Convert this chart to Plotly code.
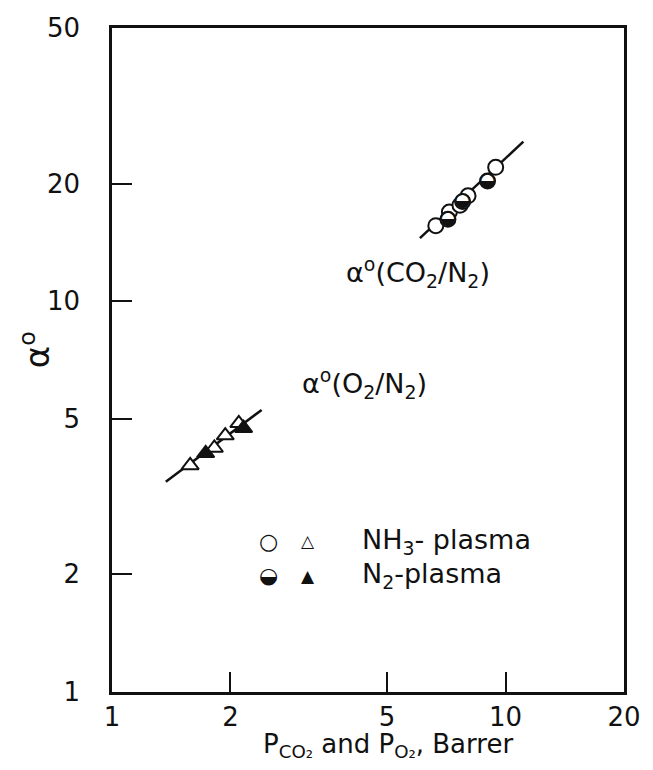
import plotly.graph_objects as go

# ---- data ----
co2_nh3_x = [6.65, 7.20, 7.66, 8.03, 9.44]
co2_nh3_y = [15.6, 16.9, 17.6, 18.6, 22.0]
co2_n2_x = [7.14, 7.78, 9.00]
co2_n2_y = [16.2, 18.0, 20.3]

o2_nh3_x = [1.58, 1.82, 1.94, 2.10]
o2_nh3_y = [3.80, 4.21, 4.53, 4.87]
o2_n2_x = [1.73, 2.16]
o2_n2_y = [4.08, 4.73]

co2_line_x = [6.06, 11.1]
co2_line_y = [14.5, 25.6]
o2_line_x = [1.37, 2.40]
o2_line_y = [3.45, 5.27]

x_ticks = [1, 2, 5, 10, 20]
y_ticks = [1, 2, 5, 10, 20, 50]

FONT = "DejaVu Sans"
BLACK = "#111111"

fig = go.Figure()

# fitted lines
for lx, ly in [(co2_line_x, co2_line_y), (o2_line_x, o2_line_y)]:
    fig.add_trace(go.Scatter(x=lx, y=ly, mode="lines",
                             line=dict(color=BLACK, width=2.5),
                             showlegend=False, hoverinfo="skip"))

# NH3 plasma: open symbols
fig.add_trace(go.Scatter(x=co2_nh3_x, y=co2_nh3_y, mode="markers",
                         marker=dict(symbol="circle", size=15, color="white",
                                     line=dict(color=BLACK, width=2)),
                         showlegend=False))
fig.add_trace(go.Scatter(x=o2_nh3_x, y=o2_nh3_y, mode="markers",
                         marker=dict(symbol="triangle-up", size=15, color="white",
                                     line=dict(color=BLACK, width=2)),
                         showlegend=False))

# N2 plasma: half-filled circles, filled triangles
fig.add_trace(go.Scatter(x=co2_n2_x, y=co2_n2_y, mode="markers",
                         marker=dict(symbol="circle", size=15, color="white",
                                     line=dict(color=BLACK, width=2)),
                         showlegend=False))
fig.add_trace(go.Scatter(x=co2_n2_x, y=co2_n2_y, mode="text",
                         text=["◒"] * len(co2_n2_x),
                         textposition="middle center",
                         textfont=dict(family=FONT, size=19, color=BLACK),
                         showlegend=False))
fig.add_trace(go.Scatter(x=o2_n2_x, y=o2_n2_y, mode="markers",
                         marker=dict(symbol="triangle-up", size=15, color=BLACK,
                                     line=dict(color=BLACK, width=2)),
                         showlegend=False))

axis_common = dict(type="log", showgrid=False, zeroline=False,
                   showline=True, linecolor=BLACK, linewidth=2.5, mirror=True,
                   ticks="inside", ticklen=20, tickwidth=1.5, tickcolor=BLACK,
                   tickmode="array",
                   tickfont=dict(family=FONT, size=26, color=BLACK))

fig.update_xaxes(**axis_common, range=[0, 1.30103], tickvals=x_ticks,
                 ticktext=[str(v) for v in x_ticks], ticklabelstandoff=0)
fig.update_yaxes(**axis_common, range=[0, 1.69897], tickvals=y_ticks,
                 ticktext=[str(v) for v in y_ticks], ticklabelstandoff=24)


def note(text, x, y, size, xanchor="center", angle=0):
    return dict(text=text, x=x, y=y, xref="paper", yref="paper",
                xanchor=xanchor, yanchor="middle", textangle=angle,
                showarrow=False, font=dict(family=FONT, size=size, color=BLACK))


ann = [
    note("α<sup>o</sup>(CO<sub>2</sub>/N<sub>2</sub>)", 0.598, 0.6325, 27),
    note("α<sup>o</sup>(O<sub>2</sub>/N<sub>2</sub>)", 0.494, 0.465, 27),
    note("P<sub>CO₂</sub> and P<sub>O₂</sub>, Barrer", 0.54, -0.08, 26),
    note("α<sup>o</sup>", -0.15, 0.515, 34, angle=-90),
    # legend
    note("○", 0.305, 0.2274, 22),
    note("△", 0.382, 0.2274, 17),
    note("NH<sub>3</sub>- plasma", 0.4846, 0.2274, 27, xanchor="left"),
    note("◒", 0.305, 0.1747, 22),
    note("▲", 0.382, 0.1747, 17),
    note("N<sub>2</sub>-plasma", 0.4846, 0.1747, 27, xanchor="left"),
]

fig.update_layout(width=653, height=770,
                  margin=dict(l=112, r=23, t=28, b=78),
                  paper_bgcolor="white", plot_bgcolor="white",
                  annotations=ann, showlegend=False)

fig.write_html("out.html")
